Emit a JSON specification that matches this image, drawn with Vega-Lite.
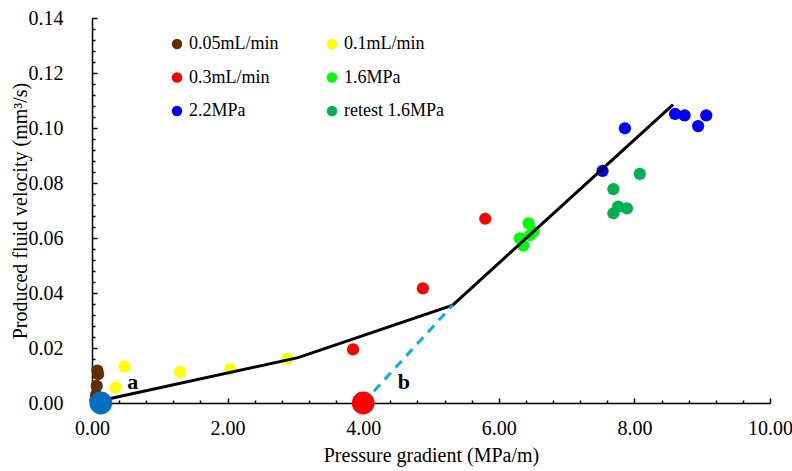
{
  "$schema": "https://vega.github.io/schema/vega-lite/v6.json",
  "width": 678,
  "height": 385,
  "autosize": {"type": "none"},
  "padding": {"left": 92, "top": 18, "right": 22, "bottom": 68},
  "background": "white",
  "config": {
    "view": {"stroke": null},
    "font": "Liberation Serif",
    "axis": {
      "labelFont": "Liberation Serif",
      "titleFont": "Liberation Serif",
      "labelFontSize": 20,
      "titleFontSize": 20,
      "titleFontWeight": "normal",
      "labelColor": "black",
      "titleColor": "black",
      "domainColor": "black",
      "domainWidth": 1.5,
      "tickColor": "black",
      "tickWidth": 1.5,
      "grid": false,
      "labelFlush": false,
      "labelOverlap": false
    }
  },
  "resolve": {"axis": {"x": "independent", "y": "independent"}},
  "datasets": {
    "pts": [
      {"series": "0.05mL/min", "x": 0.08, "y": 0.0118},
      {"series": "0.05mL/min", "x": 0.09, "y": 0.0105},
      {"series": "0.05mL/min", "x": 0.07, "y": 0.0062},
      {"series": "0.05mL/min", "x": 0.06, "y": 0.0030},
      {"series": "0.05mL/min", "x": 0.05, "y": 0.0010},
      {"series": "0.1mL/min", "x": 0.48, "y": 0.0132},
      {"series": "0.1mL/min", "x": 0.35, "y": 0.0057},
      {"series": "0.1mL/min", "x": 1.30, "y": 0.0113},
      {"series": "0.1mL/min", "x": 2.04, "y": 0.0123},
      {"series": "0.1mL/min", "x": 2.88, "y": 0.0161},
      {"series": "0.3mL/min", "x": 3.85, "y": 0.0195},
      {"series": "0.3mL/min", "x": 4.88, "y": 0.0417},
      {"series": "0.3mL/min", "x": 5.80, "y": 0.0670},
      {"series": "1.6MPa", "x": 6.44, "y": 0.0653},
      {"series": "1.6MPa", "x": 6.51, "y": 0.0623},
      {"series": "1.6MPa", "x": 6.46, "y": 0.0610},
      {"series": "1.6MPa", "x": 6.31, "y": 0.0599},
      {"series": "1.6MPa", "x": 6.36, "y": 0.0572},
      {"series": "2.2MPa", "x": 7.53, "y": 0.0844},
      {"series": "2.2MPa", "x": 7.86, "y": 0.0999},
      {"series": "2.2MPa", "x": 8.60, "y": 0.1051},
      {"series": "2.2MPa", "x": 8.74, "y": 0.1046},
      {"series": "2.2MPa", "x": 8.94, "y": 0.1007},
      {"series": "2.2MPa", "x": 9.06, "y": 0.1046},
      {"series": "retest 1.6MPa", "x": 7.69, "y": 0.0778},
      {"series": "retest 1.6MPa", "x": 8.08, "y": 0.0833},
      {"series": "retest 1.6MPa", "x": 7.76, "y": 0.0714},
      {"series": "retest 1.6MPa", "x": 7.89, "y": 0.0708},
      {"series": "retest 1.6MPa", "x": 7.69, "y": 0.0690}
    ],
    "fit": [
      {"x": 0.12, "y": 0.0008},
      {"x": 3.04, "y": 0.0165},
      {"x": 5.32, "y": 0.0356},
      {"x": 8.57, "y": 0.1085}
    ],
    "dash": [
      {"x": 4.0, "y": 0.0},
      {"x": 5.32, "y": 0.0356}
    ],
    "marks": [
      {"marker": "start a", "x": 0.13, "y": 0.0},
      {"marker": "start b", "x": 4.0, "y": 0.0}
    ],
    "labels": [
      {"label": "a", "x": 0.6, "y": 0.0075},
      {"label": "b", "x": 4.6, "y": 0.0075}
    ]
  },
  "layer": [
    {
      "data": {"name": "pts"},
      "mark": {"type": "circle", "size": 150, "opacity": 1},
      "encoding": {
        "x": {
          "field": "x", "type": "quantitative",
          "scale": {"domain": [0, 10], "nice": false},
          "axis": {
            "orient": "bottom",
            "title": "Pressure gradient (MPa/m)",
            "values": [0, 2, 4, 6, 8, 10],
            "format": ".2f",
            "tickSize": -5,
            "labelPadding": 20,
            "titlePadding": 7
          }
        },
        "y": {
          "field": "y", "type": "quantitative",
          "scale": {"domain": [0, 0.14], "nice": false},
          "axis": {
            "orient": "left",
            "title": "Produced fluid velocity (mm³/s)",
            "values": [0, 0.02, 0.04, 0.06, 0.08, 0.1, 0.12, 0.14],
            "format": ".2f",
            "tickSize": -5,
            "labelPadding": 34,
            "titlePadding": -2
          }
        },
        "color": {
          "field": "series", "type": "nominal",
          "scale": {
            "domain": ["0.05mL/min", "0.1mL/min", "0.3mL/min", "1.6MPa", "2.2MPa", "retest 1.6MPa"],
            "range": ["#603000", "#FFFF00", "#FF0000", "#00FF00", "#0000FF", "#00B050"]
          },
          "legend": {
            "title": null,
            "orient": "none",
            "legendX": 76,
            "legendY": 17,
            "columns": 2,
            "direction": "horizontal",
            "symbolType": "circle",
            "symbolSize": 110,
            "symbolOpacity": 1,
            "symbolStrokeWidth": 0,
            "labelFont": "Liberation Serif",
            "labelFontSize": 18,
            "labelColor": "black",
            "labelOffset": 3,
            "rowPadding": 15.5,
            "columnPadding": 44,
            "labelLimit": 200
          }
        }
      }
    },
    {
      "data": {"name": "fit"},
      "mark": {"type": "line", "color": "black", "strokeWidth": 3},
      "encoding": {
        "x": {
          "field": "x", "type": "quantitative",
          "axis": {
            "orient": "bottom",
            "title": null,
            "values": [0.4,0.8,1.2,1.6,2.4,2.8,3.2,3.6,4.4,4.8,5.2,5.6,6.4,6.8,7.2,7.6,8.4,8.8,9.2,9.6],
            "labels": false,
            "domain": false,
            "tickSize": -3
          }
        },
        "y": {
          "field": "y", "type": "quantitative",
          "axis": {
            "orient": "left",
            "title": null,
            "values": [0.004,0.008,0.012,0.016,0.024,0.028,0.032,0.036,0.044,0.048,0.052,0.056,0.064,0.068,0.072,0.076,0.084,0.088,0.092,0.096,0.104,0.108,0.112,0.116,0.124,0.128,0.132,0.136],
            "labels": false,
            "domain": false,
            "tickSize": -3
          }
        }
      }
    },
    {
      "data": {"name": "dash"},
      "mark": {"type": "line", "color": "#00B0F0", "strokeWidth": 3, "strokeDash": [9, 7]},
      "encoding": {
        "x": {"field": "x", "type": "quantitative", "axis": null},
        "y": {"field": "y", "type": "quantitative", "axis": null}
      }
    },
    {
      "data": {"name": "marks"},
      "transform": [{"filter": "datum.marker === 'start a'"}],
      "mark": {"type": "circle", "size": 520, "opacity": 1, "color": "#0070C0", "clip": false},
      "encoding": {
        "x": {"field": "x", "type": "quantitative", "axis": null},
        "y": {"field": "y", "type": "quantitative", "axis": null}
      }
    },
    {
      "data": {"name": "marks"},
      "transform": [{"filter": "datum.marker === 'start b'"}],
      "mark": {"type": "circle", "size": 520, "opacity": 1, "color": "#FF0000", "clip": false},
      "encoding": {
        "x": {"field": "x", "type": "quantitative", "axis": null},
        "y": {"field": "y", "type": "quantitative", "axis": null}
      }
    },
    {
      "data": {"name": "labels"},
      "mark": {"type": "text", "font": "Liberation Serif", "fontSize": 22, "fontWeight": "bold", "color": "black", "align": "center", "baseline": "middle"},
      "encoding": {
        "x": {"field": "x", "type": "quantitative", "axis": null},
        "y": {"field": "y", "type": "quantitative", "axis": null},
        "text": {"field": "label"}
      }
    }
  ]
}
